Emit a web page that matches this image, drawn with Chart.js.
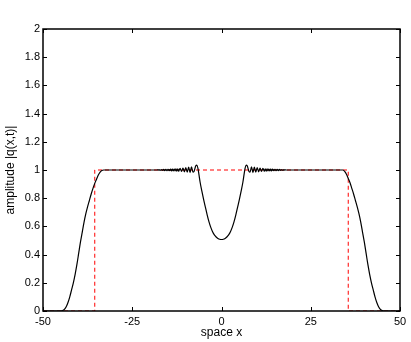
<!DOCTYPE html>
<html lang="en">
<head>
    <meta charset="UTF-8">
    <title>amplitude |q(x,t)|</title>
    <script src="https://cdn.jsdelivr.net/npm/chart.js"></script>
    <style>
        body {
            margin: 0;
            background: #fff;
        }
        canvas {
            display: block;
        }
    </style>
</head>
<body>
    <canvas id="ampChart" width="411" height="342"></canvas>

    <script>
        // solution profile (black solid)
        const spaceX = [
            -50, -45, -44.5, -44, -43.5, -43, -42.5, -42, -41.5, -41, -40.5, -40, -39.5, -39, -38.5, -38,
            -37.5, -37, -36.5, -36, -35.5, -35, -34.5, -34, -33.5, -33, -25, -20, -18,
            -17.75, -17.5, -17.25, -17, -16.75, -16.5, -16.25, -16, -15.75, -15.5, -15.25, -15,
            -14.75, -14.5, -14.25, -14, -13.75, -13.5, -13.25, -13, -12.75, -12.5, -12.25, -12,
            -11.6, -11.2, -10.8, -10.4, -10, -9.6, -9.2, -8.8, -8.4, -8, -7.7, -7.2, -6.9, -6.6, -6.3,
            -6, -5.5, -5, -4.5, -4, -3.5, -3, -2.5, -2, -1.5, -1, -0.5, 0,
            0.5, 1, 1.5, 2, 2.5, 3, 3.5, 4, 4.5, 5, 5.5, 6,
            6.3, 6.6, 6.9, 7.2, 7.7, 8, 8.4, 8.8, 9.2, 9.6, 10, 10.4, 10.8, 11.2, 11.6,
            12, 12.25, 12.5, 12.75, 13, 13.25, 13.5, 13.75, 14, 14.25, 14.5, 14.75, 15,
            15.25, 15.5, 15.75, 16, 16.25, 16.5, 16.75, 17, 17.25, 17.5, 17.75, 18,
            20, 25, 33.5, 34, 34.5, 35, 35.5, 36, 36.5, 37, 37.5, 38, 38.5, 39, 39.5, 40,
            40.5, 41, 41.5, 42, 42.5, 43, 43.5, 44, 44.5, 45, 45.5, 50
        ];
        const amplitude = [
            0, 0, 0.003, 0.012, 0.03, 0.06, 0.1, 0.15, 0.2, 0.26, 0.33, 0.41, 0.49, 0.56, 0.63, 0.69,
            0.74, 0.785, 0.83, 0.87, 0.905, 0.935, 0.965, 0.985, 0.997, 1.0, 1.0, 1.0, 1.0,
            1.002, 0.998, 1.003, 0.997, 1.003, 0.997, 1.004, 0.996, 1.004, 0.996, 1.005, 0.995,
            1.005, 0.995, 1.006, 0.994, 1.006, 0.994, 1.007, 0.993, 1.008, 0.992, 1.009, 0.991,
            1.012, 0.99, 1.014, 0.987, 1.017, 0.985, 1.02, 0.982, 1.022, 0.985, 0.99, 1.03, 1.035, 1.012, 0.965,
            0.915, 0.85, 0.79, 0.735, 0.68, 0.632, 0.593, 0.562, 0.54, 0.525, 0.515, 0.509, 0.507,
            0.509, 0.515, 0.525, 0.54, 0.562, 0.593, 0.632, 0.68, 0.735, 0.79, 0.85, 0.915,
            0.965, 1.012, 1.035, 1.03, 0.99, 0.985, 1.022, 0.982, 1.02, 0.985, 1.017, 0.987, 1.014, 0.99, 1.012,
            0.991, 1.009, 0.992, 1.008, 0.993, 1.007, 0.994, 1.006, 0.994, 1.006, 0.995, 1.005, 0.995,
            1.005, 0.996, 1.004, 0.996, 1.004, 0.997, 1.003, 0.997, 1.003, 0.998, 1.002, 1.0,
            1.0, 1.0, 1.0, 1.0, 0.99, 0.97, 0.94, 0.91, 0.87, 0.83, 0.785, 0.74, 0.69, 0.63, 0.56, 0.49,
            0.41, 0.33, 0.26, 0.2, 0.15, 0.1, 0.06, 0.03, 0.012, 0.003, 0, 0
        ];

        // initial box (red dashed)
        const boxX = [-50, -35.5, -35.5, 35.5, 35.5, 50];
        const boxY = [0, 0, 1, 1, 0, 0];

        const xTicks = [-50, -25, 0, 25, 50];
        const yTicks = [0, 0.2, 0.4, 0.6, 0.8, 1, 1.2, 1.4, 1.6, 1.8, 2];

        const toPoints = (xs, ys) => xs.map((x, i) => ({ x: x, y: ys[i] }));

        const fontFamily = "'Liberation Sans', Arial, sans-serif";

        // matlab style box with inward ticks
        const boxPlugin = {
            id: "boxPlugin",
            afterDatasetsDraw(chart) {
                const { ctx, chartArea: a, scales } = chart;
                ctx.save();
                ctx.strokeStyle = "#000";
                ctx.lineWidth = 1;
                ctx.beginPath();
                xTicks.forEach(v => {
                    const px = Math.round(scales.x.getPixelForValue(v)) + 0.5;
                    ctx.moveTo(px, a.bottom);
                    ctx.lineTo(px, a.bottom - 4);
                    ctx.moveTo(px, a.top);
                    ctx.lineTo(px, a.top + 4);
                });
                yTicks.forEach(v => {
                    const py = Math.round(scales.y.getPixelForValue(v)) + 0.5;
                    ctx.moveTo(a.left, py);
                    ctx.lineTo(a.left + 4, py);
                    ctx.moveTo(a.right, py);
                    ctx.lineTo(a.right - 4, py);
                });
                ctx.stroke();
                ctx.lineWidth = 1.5;
                ctx.strokeRect(a.left, a.top, a.right - a.left, a.bottom - a.top);
                ctx.restore();
            }
        };

        const ctx = document.getElementById("ampChart").getContext("2d");

        new Chart(ctx, {
            type: "line",
            data: {
                datasets: [
                    {
                        data: toPoints(spaceX, amplitude),
                        borderColor: "#000",
                        borderWidth: 1.2,
                        pointRadius: 0,
                        cubicInterpolationMode: "monotone",
                        fill: false
                    },
                    {
                        data: toPoints(boxX, boxY),
                        borderColor: "#ff0000",
                        borderWidth: 1,
                        borderDash: [4, 3],
                        pointRadius: 0,
                        tension: 0,
                        fill: false
                    }
                ]
            },
            options: {
                responsive: false,
                devicePixelRatio: 1,
                animation: false,
                layout: { padding: { left: 0, right: 11, top: 29, bottom: 0 } },
                plugins: {
                    legend: { display: false },
                    tooltip: { enabled: false }
                },
                scales: {
                    x: {
                        type: "linear",
                        min: -50,
                        max: 50,
                        afterBuildTicks: s => { s.ticks = xTicks.map(v => ({ value: v })); },
                        afterFit: s => { s.height = 31; },
                        grid: { display: false, drawTicks: false, tickLength: 0 },
                        border: { display: false },
                        ticks: {
                            color: "#000",
                            padding: 4,
                            maxRotation: 0,
                            font: { family: fontFamily, size: 11 }
                        },
                        title: {
                            display: true,
                            text: "space x",
                            color: "#000",
                            padding: { top: 0, bottom: 2 },
                            font: { family: fontFamily, size: 12 }
                        }
                    },
                    y: {
                        min: 0,
                        max: 2,
                        afterBuildTicks: s => { s.ticks = yTicks.map(v => ({ value: v })); },
                        afterFit: s => { s.width = 43; },
                        grid: { display: false, drawTicks: false, tickLength: 0 },
                        border: { display: false },
                        ticks: {
                            color: "#000",
                            padding: 3,
                            font: { family: fontFamily, size: 11 },
                            callback: v => String(Number(v.toFixed(1)))
                        },
                        title: {
                            display: true,
                            text: "amplitude |q(x,t)|",
                            color: "#000",
                            padding: { top: 3, bottom: 0 },
                            font: { family: fontFamily, size: 12 }
                        }
                    }
                }
            },
            plugins: [boxPlugin]
        });
    </script>
</body>
</html>
